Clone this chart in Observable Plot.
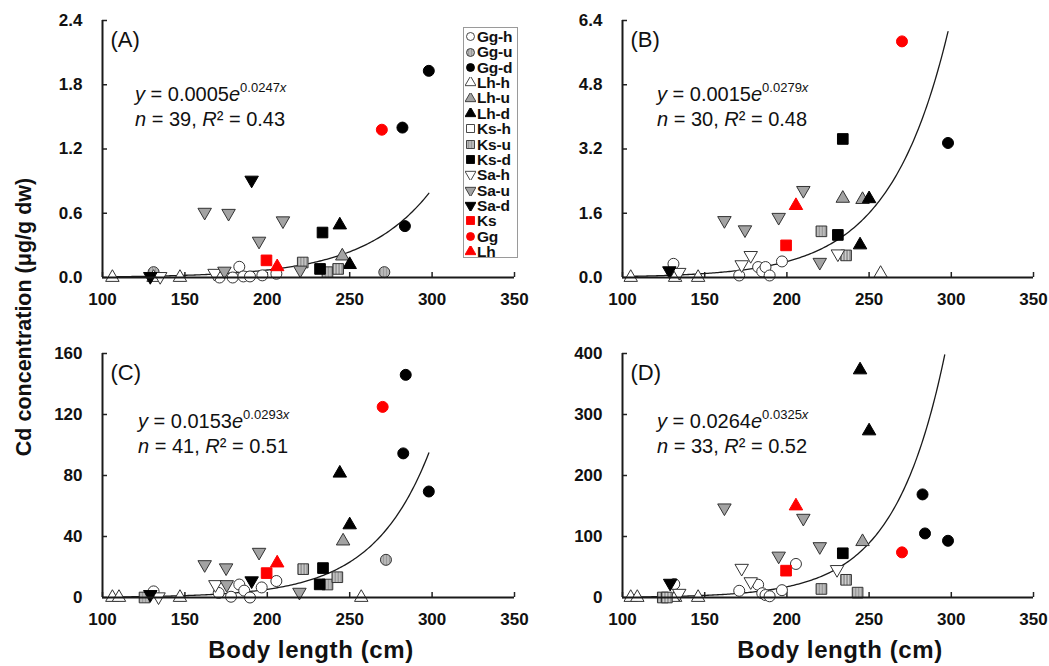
<!DOCTYPE html>
<html>
<head>
<meta charset="utf-8">
<script src="https://cdn.jsdelivr.net/npm/d3@7"></script>
<script src="https://cdn.jsdelivr.net/npm/@observablehq/plot@0.6"></script>
<style>
  body { margin: 0; background: #fff; font-family: "Liberation Sans", Arial, sans-serif; color: #111; }
  #wrap { position: relative; width: 1049px; height: 666px; overflow: hidden; background: #fff; }
  .panel { position: absolute; }
  .eq { position: absolute; font-size: 20px; line-height: 22px; white-space: nowrap; color: #111; }
  .eq sup { font-size: 13px; vertical-align: 0; position: relative; top: -9px; }
  .lbl { position: absolute; font-weight: bold; white-space: nowrap; color: #111; line-height: 1; }
  #legend { position: absolute; left: 463px; top: 27px; width: 55px; height: 231px; border: 1px solid #9a9a9a; background: #fff; box-sizing: border-box; padding-top: 1px; }
  #legend .row { height: 15.36px; line-height: 15.36px; font-size: 15.5px; font-weight: bold; white-space: nowrap; display: flex; align-items: center; letter-spacing: -0.2px; }
  #legend svg { width: 11px; height: 11px; margin-left: 1px; margin-right: 1px; flex: none; }
</style>
</head>
<body>
<svg width="0" height="0" style="position:absolute">
  <defs>
    <pattern id="patU" patternUnits="userSpaceOnUse" width="3" height="3">
      <rect width="3" height="3" fill="#d2d2d2"></rect>
      <line x1="1" y1="0" x2="1" y2="3" stroke="#6e6e6e" stroke-width="1.1"></line>
    </pattern>
  </defs>
</svg>
<div id="wrap"></div>
<script>
// ---------- DATA ----------
const groups = ["Gg-h","Gg-u","Gg-d","Lh-h","Lh-u","Lh-d","Ks-h","Ks-u","Ks-d","Sa-h","Sa-u","Sa-d","Ks","Gg","Lh"];
const xTicks = [100, 150, 200, 250, 300, 350];
const yTicksA = [0, 0.6, 1.2, 1.8, 2.4];
const yTicksB = [0, 1.6, 3.2, 4.8, 6.4];
const yTicksC = [0, 40, 80, 120, 160];
const yTicksD = [0, 100, 200, 300, 400];
const panelLabels = ["(A)", "(B)", "(C)", "(D)"];
const fitCoef = [[0.0005, 0.0247], [0.0015, 0.0279], [0.0153, 0.0293], [0.0264, 0.0325]];
const fitRange = [[105, 298], [105, 298], [105, 298], [105, 296]];
const fitN = [39, 30, 41, 33];
const fitR2 = ["0.43", "0.48", "0.51", "0.52"];

// [body length (cm), Cd concentration, group]
const panelA = [
  [106,0,"Lh-h"],[131,0,"Lh-h"],[147,0,"Lh-h"],
  [171,0.00,"Gg-h"],[179,0.00,"Gg-h"],[183,0.10,"Gg-h"],[185.5,0.01,"Gg-h"],[189.5,0.01,"Gg-h"],[197,0.02,"Gg-h"],[205.5,0.035,"Gg-h"],
  [131,0.05,"Gg-u"],[271,0.05,"Gg-u"],
  [168,0.04,"Sa-h"],[135,0.01,"Sa-h"],
  [162,0.61,"Sa-u"],[176.5,0.60,"Sa-u"],[195,0.34,"Sa-u"],[209.5,0.53,"Sa-u"],[220,0.07,"Sa-u"],[174,0.06,"Sa-u"],
  [129,0.01,"Sa-d"],[190.5,0.91,"Sa-d"],
  [221.5,0.14,"Ks-u"],[236.5,0.05,"Ks-u"],[243,0.08,"Ks-u"],
  [233.5,0.42,"Ks-d"],[232,0.08,"Ks-d"],
  [245.5,0.20,"Lh-u"],
  [244,0.49,"Lh-d"],[250,0.12,"Lh-d"],
  [282,1.40,"Gg-d"],[283.5,0.48,"Gg-d"],[298,1.93,"Gg-d"],
  [199.5,0.16,"Ks"],[206,0.10,"Lh"],[269.5,1.38,"Gg"]
];
const panelB = [
  [105,0,"Lh-h"],[132,0,"Lh-h"],[146,0,"Lh-h"],[257,0.10,"Lh-h"],
  [131,0.34,"Gg-h"],[171,0.05,"Gg-h"],[182.5,0.26,"Gg-h"],[185,0.15,"Gg-h"],[187,0.26,"Gg-h"],[189.5,0.05,"Gg-h"],[197,0.40,"Gg-h"],
  [134.5,0.13,"Sa-h"],[172.5,0.32,"Sa-h"],[178,0.55,"Sa-h"],[231,0.59,"Sa-h"],
  [162,1.42,"Sa-u"],[174.5,1.19,"Sa-u"],[195,1.50,"Sa-u"],[210,2.17,"Sa-u"],[220,0.38,"Sa-u"],
  [128.5,0.17,"Sa-d"],
  [221,1.15,"Ks-u"],[236,0.55,"Ks-u"],
  [231,1.06,"Ks-d"],[234,3.45,"Ks-d"],
  [234,1.97,"Lh-u"],[246,1.94,"Lh-u"],
  [250,1.96,"Lh-d"],[244.5,0.81,"Lh-d"],
  [298,3.35,"Gg-d"],
  [199.5,0.80,"Ks"],[205.5,1.79,"Lh"],[270,5.88,"Gg"]
];
const panelC = [
  [106,0,"Lh-h"],[110,0,"Lh-h"],[147,0,"Lh-h"],[257,0,"Lh-h"],
  [131,4,"Gg-h"],[170.5,3,"Gg-h"],[178,0.5,"Gg-h"],[183,8.5,"Gg-h"],[186,4.5,"Gg-h"],[189.5,0,"Gg-h"],[196.6,6.6,"Gg-h"],[205.5,10.8,"Gg-h"],
  [134,0.5,"Sa-h"],[168.5,8.5,"Sa-h"],
  [162,21.6,"Sa-u"],[175,19.5,"Sa-u"],[195,29.7,"Sa-u"],[219.5,3.5,"Sa-u"],[175.4,8.5,"Sa-u"],
  [129,2,"Sa-d"],[190.5,11,"Sa-d"],
  [125.5,0,"Ks-u"],[221.8,18.6,"Ks-u"],[236.5,8.5,"Ks-u"],[242.5,13.3,"Ks-u"],
  [233.8,19.3,"Ks-d"],[231.8,8.6,"Ks-d"],
  [246,37,"Lh-u"],
  [244,81.5,"Lh-d"],[250,47.6,"Lh-d"],
  [272,24.7,"Gg-u"],
  [284,146,"Gg-d"],[282.5,94.5,"Gg-d"],[298,69.5,"Gg-d"],
  [199.6,16,"Ks"],[206,22.6,"Lh"],[270,125,"Gg"]
];
const panelD = [
  [105,0,"Lh-h"],[109,0,"Lh-h"],[132,0,"Lh-h"],[146,0,"Lh-h"],
  [131.5,22,"Gg-h"],[171,11,"Gg-h"],[182.5,21,"Gg-h"],[185,7,"Gg-h"],[187,4,"Gg-h"],[189.5,2,"Gg-h"],[197,12,"Gg-h"],[205.5,55,"Gg-h"],
  [134.5,7,"Sa-h"],[172.5,48,"Sa-h"],[178,26,"Sa-h"],[230.5,46,"Sa-h"],
  [162,147,"Sa-u"],[195,68,"Sa-u"],[210,130,"Sa-u"],[220,83.5,"Sa-u"],
  [129,23.5,"Sa-d"],
  [124.5,0,"Ks-u"],[127,0,"Ks-u"],[221,14,"Ks-u"],[236,29,"Ks-u"],[243,8,"Ks-u"],
  [234,72.5,"Ks-d"],
  [246,91.5,"Lh-u"],
  [244.5,373,"Lh-d"],[250,273,"Lh-d"],
  [282.5,169,"Gg-d"],[284,105,"Gg-d"],[298,93,"Gg-d"],
  [199.5,44,"Ks"],[205.5,150,"Lh"],[270,74,"Gg"]
];

// ---------- STYLES ----------
const symbolTriangleDown = {
  draw(context, size) {
    const s3 = Math.sqrt(3);
    const y = -Math.sqrt(size / (s3 * 3));
    context.moveTo(0, -y * 2);
    context.lineTo(-s3 * y, y);
    context.lineTo(s3 * y, y);
    context.closePath();
  }
};
const GRAY = "#a3a3a3", EDGE = "#333", RED = "#ff0000";
const shapeOf = {Gg: "circle", Lh: "triangle", Ks: "square", Sa: "down"};
function styleOf(g) {
  const [sp, st] = g.split("-");
  const shape = shapeOf[sp];
  let fill, stroke;
  if (!st) { fill = RED; stroke = RED; }
  else if (st === "h") { fill = "white"; stroke = EDGE; }
  else if (st === "u") { fill = (sp === "Gg" || sp === "Ks") ? "url(#patU)" : GRAY; stroke = EDGE; }
  else { fill = "black"; stroke = "black"; }
  return {shape, fill, stroke};
}
function plotSymbol(shape) {
  return shape === "circle" ? "circle" : shape === "triangle" ? "triangle" : shape === "square" ? "square" : symbolTriangleDown;
}
function d3Sym(shape) {
  return shape === "circle" ? d3.symbolCircle : shape === "triangle" ? d3.symbolTriangle : shape === "square" ? d3.symbolSquare : symbolTriangleDown;
}
const radiusOf = {circle: 5.5, triangle: 5, square: 6, down: 5};

const FONT = '"Liberation Sans", Arial, sans-serif';
const wrap = document.getElementById("wrap");

const panels = [
  {data: panelA, yTicks: yTicksA, fmt: d3.format(".1f"), x0: 102, x1: 514, yTop: 20, yBot: 277},
  {data: panelB, yTicks: yTicksB, fmt: d3.format(".1f"), x0: 622, x1: 1033, yTop: 20, yBot: 277},
  {data: panelC, yTicks: yTicksC, fmt: d => String(d), x0: 102, x1: 514, yTop: 353, yBot: 597},
  {data: panelD, yTicks: yTicksD, fmt: d => String(d), x0: 622, x1: 1033, yTop: 353, yBot: 597}
];

panels.forEach((p, i) => {
  const mL = 62, mT = 20, mR = 16, mB = 34;
  const plotW = p.x1 - p.x0, plotH = p.yBot - p.yTop;
  const width = plotW + mL + mR, height = plotH + mT + mB;
  const ymax = p.yTicks[p.yTicks.length - 1];
  const [a, b] = fitCoef[i];
  const [r0, r1] = fitRange[i];
  const curve = d3.range(r0, r1 + 0.001, 1).map(x => [x, a * Math.exp(b * x)]);
  const marks = [
    Plot.axisX({ticks: xTicks, tickSize: 0, tickPadding: 15, fontSize: 17, fontWeight: "bold", tickFormat: d => String(d)}),
    Plot.axisY({ticks: p.yTicks, tickSize: 0, tickPadding: 20, fontSize: 17, fontWeight: "bold", tickFormat: p.fmt}),
    Plot.tickX(xTicks, {x: d => d, insetTop: plotH - 5, stroke: "#222", strokeWidth: 1.5}),
    Plot.tickY(p.yTicks, {y: d => d, insetRight: plotW - 5, stroke: "#222", strokeWidth: 1.5}),
    Plot.line(curve, {x: d => d[0], y: d => d[1], stroke: "#1a1a1a", strokeWidth: 1.3})
  ];
  groups.forEach(g => {
    const rows = p.data.filter(d => d[2] === g);
    if (!rows.length) return;
    const s = styleOf(g);
    marks.push(Plot.dot(rows, {x: d => d[0], y: d => d[1], symbol: plotSymbol(s.shape), r: radiusOf[s.shape], fill: s.fill, stroke: s.stroke, strokeWidth: 1}));
  });
  marks.push(
    Plot.ruleX([100], {stroke: "#1a1a1a", strokeWidth: 2}),
    Plot.ruleY([0], {stroke: "#1a1a1a", strokeWidth: 2}),
    Plot.text([panelLabels[i]], {text: d => d, frameAnchor: "top-left", dx: 8, dy: 11, fontSize: 22, fontWeight: "normal", textAnchor: "start", fill: "#111"})
  );
  const chart = Plot.plot({
    width, height, marginLeft: mL, marginTop: mT, marginRight: mR, marginBottom: mB,
    x: {domain: [100, 350]},
    y: {domain: [0, ymax]},
    style: {fontFamily: FONT, background: "transparent", overflow: "visible", color: "#111"},
    marks
  });
  chart.classList.add("panel");
  chart.style.left = (p.x0 - mL) + "px";
  chart.style.top = (p.yTop - mT) + "px";
  wrap.appendChild(chart);

  const eq = document.createElement("div");
  eq.className = "eq";
  const exL = i % 2 === 0 ? (i === 0 ? 135 : 138) : 657;
  eq.style.left = exL + "px";
  eq.style.top = (p.yTop + (i < 2 ? 63 : 57)) + "px";
  eq.innerHTML = `<i>y</i> = ${a}<i>e</i><sup>${b}<i>x</i></sup><br><i>n</i> = ${fitN[i]}, <i>R</i>² = ${fitR2[i]}`;
  wrap.appendChild(eq);
});

// Axis titles
const yTitle = document.createElement("div");
yTitle.className = "lbl";
yTitle.textContent = "Cd concentration (μg/g dw)";
yTitle.style.fontSize = "21.5px";
yTitle.style.left = "25px";
yTitle.style.top = "317px";
yTitle.style.transform = "translate(-50%,-50%) rotate(-90deg)";
wrap.appendChild(yTitle);

[311, 840].forEach(cx => {
  const t = document.createElement("div");
  t.className = "lbl";
  t.textContent = "Body length (cm)";
  t.style.fontSize = "24px";
  t.style.letterSpacing = "0.6px";
  t.style.left = cx + "px";
  t.style.top = "650px";
  t.style.transform = "translate(-50%,-50%)";
  wrap.appendChild(t);
});

// Legend
const legend = document.createElement("div");
legend.id = "legend";
groups.forEach(g => {
  const s = styleOf(g);
  const row = document.createElement("div");
  row.className = "row";
  const size = s.shape === "circle" ? 50 : s.shape === "square" ? 64 : 52;
  const path = d3.symbol().type(d3Sym(s.shape)).size(size)();
  row.innerHTML = `<svg viewBox="-5.5 -5.5 11 11"><path d="${path}" fill="${s.fill}" stroke="${s.stroke}" stroke-width="0.9"></path></svg><span>${g}</span>`;
  legend.appendChild(row);
});
wrap.appendChild(legend);
</script>
</body>
</html>
